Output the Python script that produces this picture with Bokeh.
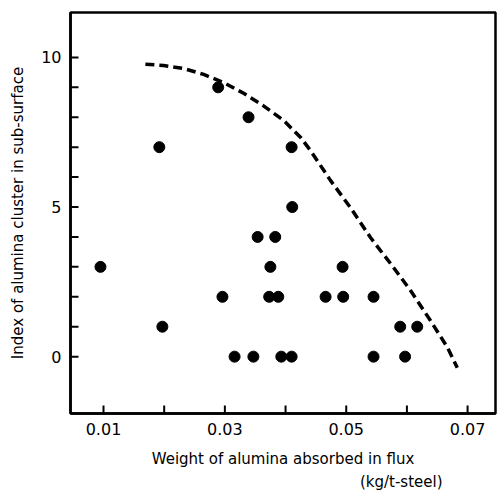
from bokeh.plotting import figure
from bokeh.models import Range1d, FixedTicker, Title
from bokeh.embed import file_html
from bokeh.resources import INLINE

# Data points
x_weight = [0.0095, 0.0192, 0.0197, 0.0289, 0.0296, 0.0316, 0.0339, 0.0347,
            0.0354, 0.0375, 0.0373, 0.0388, 0.0383, 0.0393, 0.0410, 0.0410,
            0.0411, 0.0466, 0.0494, 0.0495, 0.0545, 0.0545, 0.0589, 0.0597,
            0.0617]
y_index = [3, 7, 1, 9, 2, 0, 8, 0,
           4, 3, 2, 2, 4, 0, 0, 7,
           5, 2, 3, 2, 2, 0, 1, 0,
           1]

# Dashed boundary curve
curve_x = [0.0169, 0.0199, 0.0232, 0.0265, 0.0298, 0.0331, 0.0363, 0.0397,
           0.0425, 0.0441, 0.0474, 0.0507, 0.0540, 0.0573, 0.0606, 0.0639,
           0.0667, 0.0683]
curve_y = [9.77, 9.73, 9.63, 9.43, 9.16, 8.80, 8.39, 7.89,
           7.32, 6.89, 5.89, 4.98, 3.98, 3.11, 2.21, 1.20,
           0.30, -0.37]

x_major = [0.01, 0.03, 0.05, 0.07]
x_minor = [0.02, 0.04, 0.06]
y_major = [0, 5, 10]
y_minor = [1, 2, 3, 4, 6, 7, 8, 9]

FONT = "DejaVu Sans"

X_START, X_END = 0.00456, 0.0746
Y_START, Y_END = -1.9, 11.5

p = figure(width=498, height=490, output_backend="svg", toolbar_location=None,
           x_range=Range1d(X_START, X_END), y_range=Range1d(Y_START, Y_END),
           min_border=0,
           min_border_left=70, min_border_top=12, min_border_right=3,
           min_border_bottom=77)

p.grid.visible = False
p.background_fill_color = "white"
p.border_fill_color = "white"
p.outline_line_color = "black"
p.outline_line_width = 2.5
p.outline_line_alpha = 1.0

p.line(curve_x, curve_y, line_color="black", line_width=3.5, line_dash="9 5")
p.scatter(x_weight, y_index, size=11, color="black")

# inward ticks (about 8 px long) drawn as short segments from the axes
tick_dy = (Y_END - Y_START) * 8.0 / 401.0
tick_dx = (X_END - X_START) * 8.0 / 425.0
x_ticks_all = x_major + x_minor
y_ticks_all = y_major + y_minor
n_x = len(x_ticks_all)
n_y = len(y_ticks_all)
p.segment(x0=x_ticks_all, y0=[Y_START] * n_x,
          x1=x_ticks_all, y1=[Y_START + tick_dy] * n_x,
          line_color="black", line_width=2)
p.segment(x0=[X_START] * n_y, y0=y_ticks_all,
          x1=[X_START + tick_dx] * n_y, y1=y_ticks_all,
          line_color="black", line_width=2)

p.xaxis.ticker = FixedTicker(ticks=x_major, minor_ticks=x_minor)
p.yaxis.ticker = FixedTicker(ticks=y_major, minor_ticks=y_minor)
p.xaxis.major_label_overrides = {0.01: "0.01", 0.03: "0.03", 0.05: "0.05", 0.07: "0.07"}

for ax in (p.xaxis[0], p.yaxis[0]):
    ax.axis_line_width = 2.5
    ax.axis_line_color = "black"
    ax.major_tick_in = 0
    ax.major_tick_out = 0
    ax.minor_tick_in = 0
    ax.minor_tick_out = 0
    ax.major_label_text_font = FONT
    ax.major_label_text_font_size = "16px"
    ax.major_label_text_color = "black"
    ax.axis_label_text_font = FONT
    ax.axis_label_text_font_size = "15px"
    ax.axis_label_text_font_style = "normal"
    ax.axis_label_text_color = "black"
    ax.major_label_standoff = 9

p.xaxis.axis_label = "Weight of alumina absorbed in flux"
p.yaxis.axis_label = "Index of alumina cluster in sub-surface"
p.xaxis.axis_label_standoff = 12
p.yaxis.axis_label_standoff = 11
p.yaxis.major_label_orientation = "horizontal"

unit = Title(text="(kg/t-steel)", align="right", offset=53,
             text_font=FONT, text_font_size="15px", text_font_style="normal",
             text_color="black", standoff=0)
p.add_layout(unit, "below")

open("out.html", "w").write(file_html(p, INLINE))
